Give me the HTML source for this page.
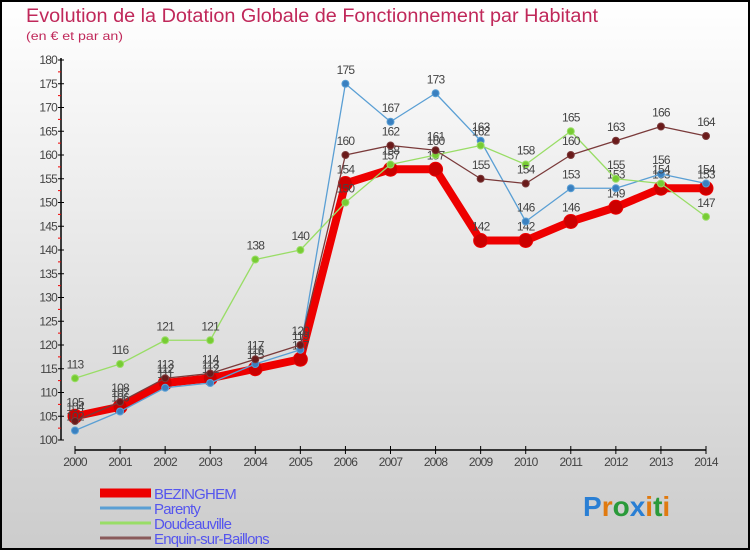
<!DOCTYPE html>
<html><head><meta charset="utf-8"><style>
html,body{margin:0;padding:0}
body{width:750px;height:550px;overflow:hidden;font-family:"Liberation Sans",sans-serif}
</style></head><body>
<svg id="c" width="750" height="550" xmlns="http://www.w3.org/2000/svg">
<defs><linearGradient id="bg" x1="0" y1="0" x2="0" y2="1"><stop offset="0" stop-color="#ffffff"/><stop offset="1" stop-color="#cccccc"/></linearGradient></defs>
<rect x="1" y="1" width="748" height="548" fill="url(#bg)" stroke="#000" stroke-width="2"/>
<text x="26" y="22" font-size="19" fill="#c0285a" textLength="572" lengthAdjust="spacingAndGlyphs">Evolution de la Dotation Globale de Fonctionnement par Habitant</text>
<text x="26" y="40" font-size="12" fill="#c0285a" textLength="97" lengthAdjust="spacingAndGlyphs">(en € et par an)</text>
<g id="axes"></g><g id="series"></g><g id="legend"></g>
<text x="583" y="516" font-size="28" font-weight="bold"><tspan fill="#2a7fd4">P</tspan><tspan fill="#e07a10">r</tspan><tspan fill="#2a9a3a">o</tspan><tspan fill="#2a7fd4">x</tspan><tspan fill="#e07a10">i</tspan><tspan fill="#2a9a3a">t</tspan><tspan fill="#e07a10">i</tspan></text>
</svg>
<script>
const years=[2000,2001,2002,2003,2004,2005,2006,2007,2008,2009,2010,2011,2012,2013,2014];
const bezinghem=[105,107,112,113,115,117,154,157,157,142,142,146,149,153,153];
const parenty=[102,106,111,112,116,119,175,167,173,163,146,153,153,156,154];
const doudeauville=[113,116,121,121,138,140,150,158,160,162,158,165,155,154,147];
const enquin=[104,108,113,114,117,120,160,162,161,155,154,160,163,166,164];
const yTicks=[100,105,110,115,120,125,130,135,140,145,150,155,160,165,170,175,180];
const NS='http://www.w3.org/2000/svg';
const X=i=>75+i*(631/14), Y=v=>440-(v-100)*4.75;
function mk(t,a,p){const e=document.createElementNS(NS,t);for(const k in a)e.setAttribute(k,a[k]);p.appendChild(e);return e;}
const ax=document.getElementById('axes');
let e=mk('line',{x1:61,y1:58,x2:61,y2:440,stroke:'#000','stroke-width':1.5},ax);

e=mk('line',{x1:75,y1:450,x2:706,y2:450,stroke:'#000','stroke-width':1.5},ax);

yTicks.forEach(v=>{mk('line',{x1:58,y1:Y(v),x2:64,y2:Y(v),stroke:'#000'},ax);
 if(v<180)mk('line',{x1:58,y1:Y(v+2.5),x2:61,y2:Y(v+2.5),stroke:'#e00'},ax);
 const t=mk('text',{x:57,y:Y(v)+4,'font-size':12,fill:'#444','text-anchor':'end','letter-spacing':'-0.8'},ax);t.textContent=v;
 });
years.forEach((y,i)=>{mk('line',{x1:X(i),y1:446,x2:X(i),y2:454,stroke:'#000'},ax);
 const t=mk('text',{x:X(i),y:466,'font-size':12,fill:'#444','text-anchor':'middle','letter-spacing':'-0.8'},ax);t.textContent=y;
 });
const sg=document.getElementById('series');
const defs=[['bezinghem',bezinghem,'#ee0000',8,7,'#cc0000'],['parenty',parenty,'#5a9fd4',1.3,3.5,'#3a80c0'],['doudeauville',doudeauville,'#99dd66',1.3,3.5,'#77cc33'],['enquin',enquin,'#7a3a3a',1.3,3.5,'#6a1a1a']];
[0,1,2,3].forEach(k=>{const [n,d,c,w,r,fc]=defs[k];
 const g=mk('g',{},sg);
 const p=mk('polyline',{points:d.map((v,i)=>X(i)+','+Y(v)).join(' '),fill:'none',stroke:c,'stroke-width':w,'stroke-linejoin':'round'},g);
 
 d.forEach((v,i)=>{const m=mk('circle',{cx:X(i),cy:Y(v),r:r,fill:fc,stroke:c,'stroke-width':1},g);
  
  const t=mk('text',{x:X(i),y:Y(v)-10,'font-size':12,fill:'#444','text-anchor':'middle','letter-spacing':'-0.8'},g);t.textContent=v;
  });});
const lg=document.getElementById('legend');
const names=['BEZINGHEM','Parenty','Doudeauville','Enquin-sur-Baillons'];
const lc=['#ee0000','#5a9fd4','#99dd66','#8a5a5a'],lw=[9,3,3,3];
names.forEach((n,i)=>{const y=493+i*15;
 const g=mk('g',{},lg);
 mk('line',{x1:100,y1:y,x2:151,y2:y,stroke:lc[i],'stroke-width':lw[i]},g);
 const t=mk('text',{x:154,y:y+6,'font-size':15,fill:'#5555ee','letter-spacing':'-0.8'},g);t.textContent=n;});
</script>
</body></html>
